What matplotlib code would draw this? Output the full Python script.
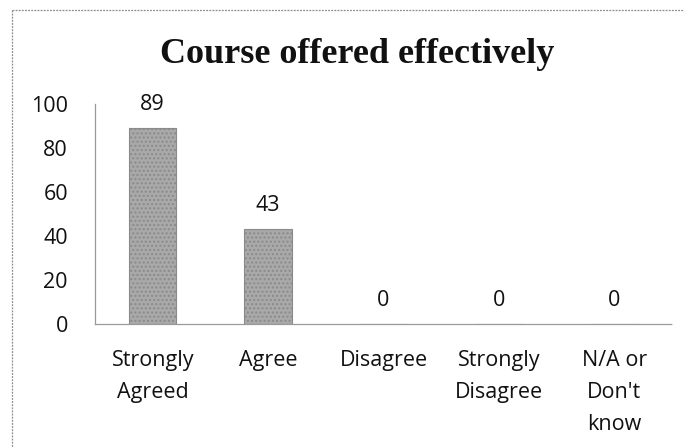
import matplotlib
matplotlib.use("Agg")
import matplotlib.pyplot as plt
from matplotlib.lines import Line2D

categories = ["Strongly\nAgreed", "Agree", "Disagree", "Strongly\nDisagree", "N/A or\nDon't\nknow"]
responses = [89, 43, 0, 0, 0]
y_ticks = [0, 20, 40, 60, 80, 100]
title = "Course offered effectively"

W, H = 686, 448
plt.rcParams["hatch.color"] = "#8f8f8f"
fig = plt.figure(figsize=(W / 100, H / 100), dpi=100)

# plot area in pixel units
left, right, top, bottom = 95, 672, 104, 324
ax = fig.add_axes([left / W, 1 - bottom / H, (right - left) / W, (bottom - top) / H])

label_font = dict(family="Open Sans", size=15.5, color="#111111")

x = range(len(categories))
ax.bar(x, responses, width=0.41, color="#a9a9a9", edgecolor="#8a8a8a",
       linewidth=0.8, hatch="....", zorder=2)

for xi, v in zip(x, responses):
    ax.annotate(str(v), (xi, v), xytext=(0, 17), textcoords="offset points",
                ha="center", va="center", **label_font)

ax.set_xlim(-0.5, len(categories) - 0.5)
ax.set_ylim(0, 100)
ax.set_yticks(y_ticks)
ax.set_yticklabels([str(t) for t in y_ticks], **label_font)
ax.set_xticks(list(x))
ax.set_xticklabels(categories, linespacing=1.7, va="top", **label_font)
ax.tick_params(axis="y", length=0, pad=19.5)
ax.tick_params(axis="x", length=0, pad=18.5)

for side in ("top", "right"):
    ax.spines[side].set_visible(False)
ax.spines["left"].set_color("#9a9a9a")
ax.spines["left"].set_linewidth(0.9)
ax.spines["bottom"].set_color("#9a9a9a")
ax.spines["bottom"].set_linewidth(0.9)
ax.spines["bottom"].set_linestyle((0, (2, 1)))

fig.text(357 / W, 1 - 63 / H, title, ha="center", va="baseline",
         family="Liberation Serif", weight="bold", size=26, color="#111111")

# dotted chart frame along the top and left edges
bx, by = 12 / W, 1 - 10 / H
fig.add_artist(Line2D([bx, 684 / W], [by, by], color="#8c8c8c", lw=0.9,
                      linestyle=(0, (1.5, 1))))
fig.add_artist(Line2D([bx, bx], [by, 0], color="#8c8c8c", lw=0.9,
                      linestyle=(0, (1.5, 1))))

fig.savefig("out.png", dpi=100)
